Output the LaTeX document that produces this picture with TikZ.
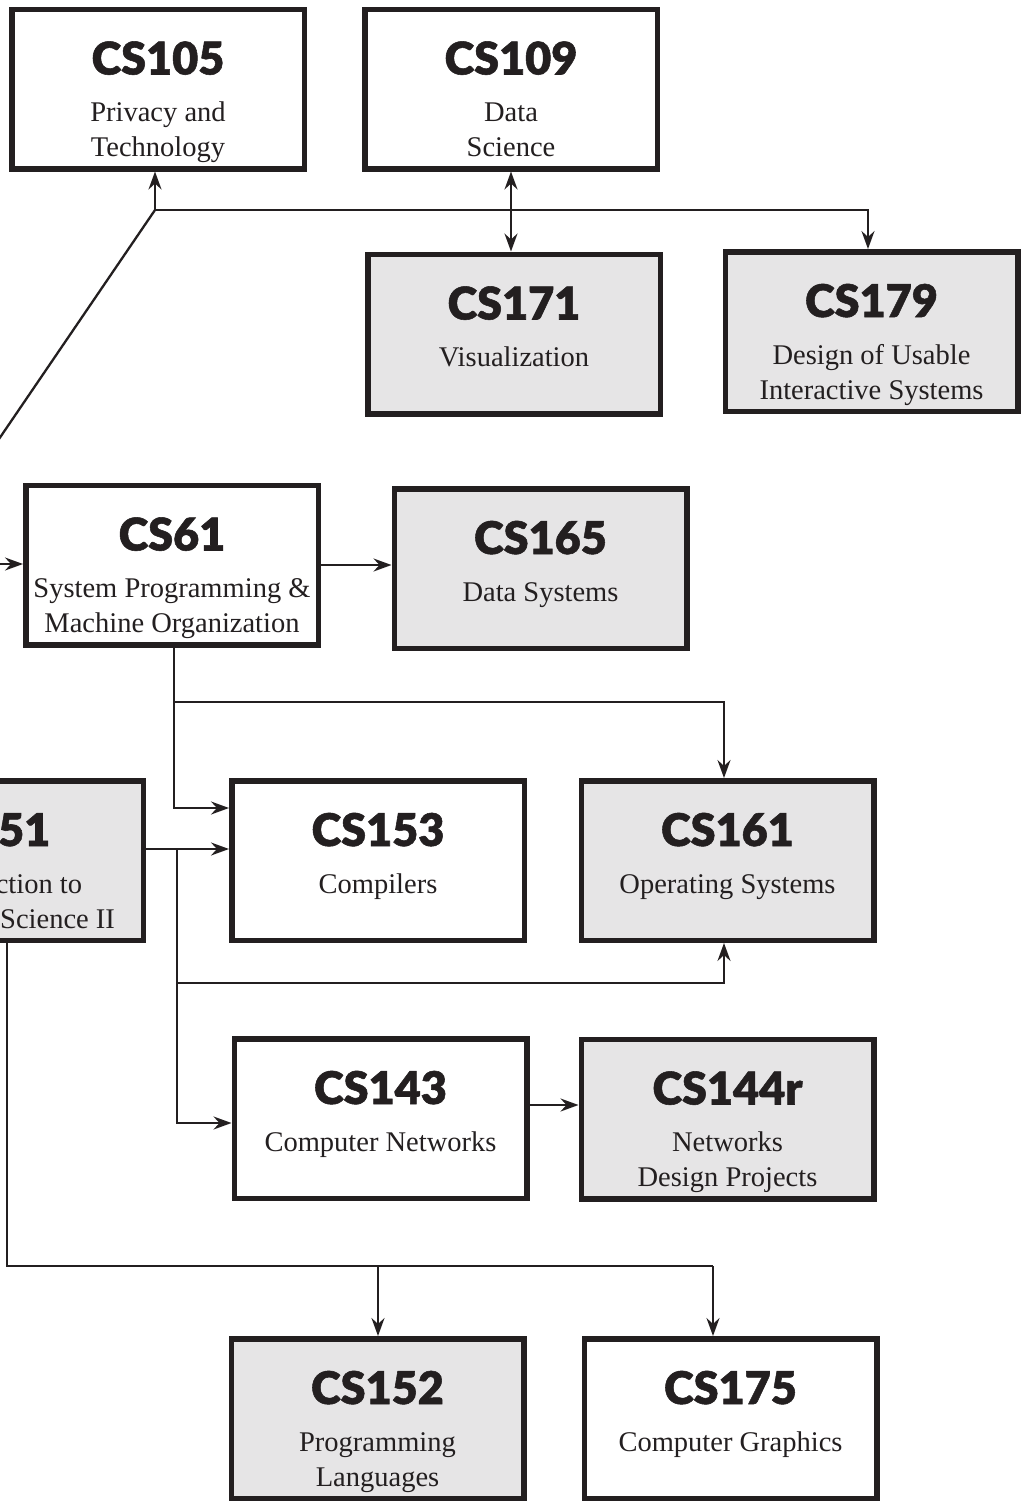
\documentclass[tikz,border=0pt]{standalone}
\usepackage{fontspec}
\setmainfont{Liberation Serif}
\newfontfamily\hfont{Lato Black}[FakeBold=1.2]
\usetikzlibrary{arrows.meta,calc}
\definecolor{ink}{RGB}{35,31,32}
\definecolor{boxgray}{RGB}{230,229,230}
\begin{document}
\begin{tikzpicture}[x=1pt,y=-1pt,
  course/.style={draw=ink, line width=5.5pt, minimum width=292.5pt, minimum height=159.5pt, inner sep=0pt, fill=white},
  shaded/.style={course, fill=boxgray},
  head/.style={anchor=base, font=\hfont\fontsize{45}{45}\selectfont, text=ink, inner sep=0pt},
  body/.style={anchor=base, font=\fontsize{28.5}{28.5}\selectfont, text=ink, inner sep=0pt},
  conn/.style={draw=ink, line width=2.3pt, line join=miter},
  arr/.style={conn, -{Stealth[length=18pt,width=13pt,inset=6pt]}},
  darr/.style={conn, {Stealth[length=18pt,width=13pt,inset=6pt]}-{Stealth[length=18pt,width=13pt,inset=6pt]}},
]
\useasboundingbox (0,0) rectangle (1029,1502);
\clip (0,0) rectangle (1029,1502);

% ---- boxes ----
\node[course] (n105) at (158,89) {};
\node[head] (n105h) at ($(n105.north)+(0,68)$) {CS105};
\node[body] (n105a) at ($(n105.north)+(0,115)$) {Privacy and};
\node[body] (n105b) at ($(n105.north)+(0,150)$) {Technology};

\node[course] (n109) at (511,89) {};
\node[head] (n109h) at ($(n109.north)+(0,68)$) {CS109};
\node[body] (n109a) at ($(n109.north)+(0,115)$) {Data};
\node[body] (n109b) at ($(n109.north)+(0,150)$) {Science};

\node[shaded] (n171) at (514,334) {};
\node[head] (n171h) at ($(n171.north)+(0,68)$) {CS171};
\node[body] (n171a) at ($(n171.north)+(0,115)$) {Visualization};

\node[shaded] (n179) at (871.5,331.5) {};
\node[head] (n179h) at ($(n179.north)+(0,68)$) {CS179};
\node[body] (n179a) at ($(n179.north)+(0,115)$) {Design of Usable};
\node[body] (n179b) at ($(n179.north)+(0,150)$) {Interactive Systems};

\node[course] (n61) at (172,565) {};
\node[head] (n61h) at ($(n61.north)+(0,68)$) {CS61};
\node[body] (n61a) at ($(n61.north)+(0,115)$) {System Programming \&};
\node[body] (n61b) at ($(n61.north)+(0,150)$) {Machine Organization};

\node[shaded] (n165) at (540.5,568.5) {};
\node[head] (n165h) at ($(n165.north)+(0,68)$) {CS165};
\node[body] (n165a) at ($(n165.north)+(0,115)$) {Data Systems};

\node[shaded] (n51) at (-3,860.5) {};
\node[head] (n51h) at ($(n51.north)+(0,68)$) {CS51};
\node[body] (n51a) at ($(n51.north)+(0,115)$) {Introduction to};
\node[body] (n51b) at ($(n51.north)+(0,150)$) {Computer Science II};

\node[course] (n153) at (378,860.5) {};
\node[head] (n153h) at ($(n153.north)+(0,68)$) {CS153};
\node[body] (n153a) at ($(n153.north)+(0,115)$) {Compilers};

\node[shaded] (n161) at (727.5,860.5) {};
\node[head] (n161h) at ($(n161.north)+(0,68)$) {CS161};
\node[body] (n161a) at ($(n161.north)+(0,115)$) {Operating Systems};

\node[course] (n143) at (380.5,1118.5) {};
\node[head] (n143h) at ($(n143.north)+(0,68)$) {CS143};
\node[body] (n143a) at ($(n143.north)+(0,115)$) {Computer Networks};

\node[shaded] (n144) at (727.5,1119) {};
\node[head] (n144h) at ($(n144.north)+(0,68)$) {CS144r};
\node[body] (n144a) at ($(n144.north)+(0,115)$) {Networks};
\node[body] (n144b) at ($(n144.north)+(0,150)$) {Design Projects};

\node[shaded] (n152) at (377.5,1418.5) {};
\node[head] (n152h) at ($(n152.north)+(0,68)$) {CS152};
\node[body] (n152a) at ($(n152.north)+(0,115)$) {Programming};
\node[body] (n152b) at ($(n152.north)+(0,150)$) {Languages};

\node[course] (n175) at (730.5,1418.5) {};
\node[head] (n175h) at ($(n175.north)+(0,68)$) {CS175};
\node[body] (n175a) at ($(n175.north)+(0,115)$) {Computer Graphics};

% ---- connectors ----
\coordinate (offA) at (-63,530);
\coordinate (j1) at (155,210);
\coordinate (j2) at (868,210);
\draw[conn] (offA) -- (j1);
\draw[arr] (j1) -- (j1 |- n105.south);
\draw[arr] (j1) -- (j2) -- (j2 |- n179.north);
\draw[darr] (n109.south) -- (n109.south |- n171.north);

\coordinate (offB) at (-40,564);
\draw[arr] (offB) -- (offB -| n61.west);
\draw[arr] (n61.east) -- (n61.east -| n165.west);

\coordinate (a0) at (174,702);
\coordinate (a1) at (174,808);
\coordinate (a2) at (724,702);
\draw[arr] (a0 |- n61.south) -- (a1) -- (a1 -| n153.west);
\draw[arr] (a0) -- (a2) -- (a2 |- n161.north);

\coordinate (b1) at (177,849);
\coordinate (b2) at (177,1123);
\coordinate (b3) at (177,983);
\coordinate (b4) at (724,983);
\draw[arr] (b1 -| n51.east) -- (b1 -| n153.west);
\draw[arr] (b1) -- (b2) -- (b2 -| n143.west);
\draw[arr] (b3) -- (b4) -- (b4 |- n161.south);

\coordinate (c1) at (0,1105);
\draw[arr] (c1 -| n143.east) -- (c1 -| n144.west);

\coordinate (d1) at (7,1266);
\coordinate (d2) at (378,1266);
\coordinate (d3) at (713,1266);
\draw[conn] (d1 |- n51.south) -- (d1) -- (d3);
\draw[arr] (d2) -- (d2 |- n152.north);
\draw[arr] (d3) -- (d3 |- n175.north);
\end{tikzpicture}
\end{document}
